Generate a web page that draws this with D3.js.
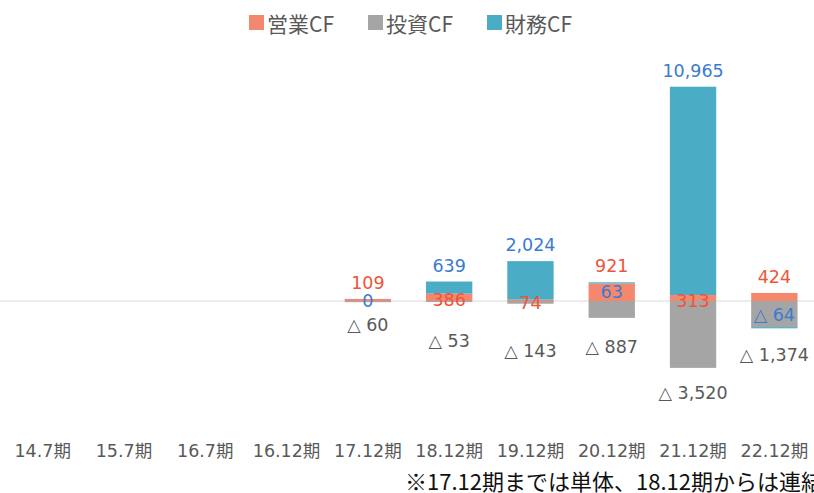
<!DOCTYPE html>
<html>
<head>
<meta charset="utf-8">
<script src="https://cdn.jsdelivr.net/npm/d3@7/dist/d3.min.js"></script>
<style>
  html, body { margin: 0; padding: 0; background: #fff; overflow: hidden; }
  svg { display: block; }
</style>
</head>
<body>
<svg id="chart" width="814" height="493"></svg>
<script>
// Cash-flow breakdown by fiscal period (百万円)
const categories = ["14.7期", "15.7期", "16.7期", "16.12期", "17.12期", "18.12期", "19.12期", "20.12期", "21.12期", "22.12期"];
const operating  = [null, null, null, null, 109, 386, 74, 921, 313, 424];
const investing  = [null, null, null, null, -60, -53, -143, -887, -3520, -1374];
const financing  = [null, null, null, null, 0, 639, 2024, 63, 10965, -64];
const seriesNames = ["営業CF", "投資CF", "財務CF"];
const footnote = "※17.12期までは単体、18.12期からは連結";

// extra drop below the stack for the investing labels, so neighbours don't collide
const investLabelGap = [0, 0, 0, 0, 23, 39, 47, 29, 25, 27];

const colors = { "営業CF": "#F4886F", "投資CF": "#A5A5A5", "財務CF": "#4BACC6" };
const labelColors = { "営業CF": "#EE5539", "投資CF": "#595959", "財務CF": "#3A7BD0" };

const W = 814, H = 493;
const svg = d3.select("#chart");
const numFont = "'DejaVu Sans', 'Noto Sans CJK JP', sans-serif";
const jpFont = "'Noto Sans CJK JP', sans-serif";

const x = d3.scaleBand().domain(categories).range([2, 815]).paddingInner(0.43).paddingOuter(0.215);
const y = d3.scaleLinear().domain([-6000, 14000]).range([415, 35]);

const rows = categories.map((c, i) => ({
  cat: c, i,
  "営業CF": operating[i] ?? 0,
  "投資CF": investing[i] ?? 0,
  "財務CF": financing[i] ?? 0
}));

const stack = d3.stack().keys(seriesNames).offset(d3.stackOffsetDiverging);
const layers = stack(rows);

// zero line
svg.append("line")
  .attr("x1", 0).attr("x2", W)
  .attr("y1", y(0)).attr("y2", y(0))
  .attr("stroke", "#D9D9D9").attr("stroke-width", 1.2);

// bars
svg.append("g").selectAll("g").data(layers).join("g")
  .attr("fill", d => colors[d.key])
  .selectAll("rect").data(d => d).join("rect")
  .attr("x", d => x(d.data.cat))
  .attr("width", x.bandwidth())
  .attr("y", d => y(Math.max(d[0], d[1])))
  .attr("height", d => Math.abs(y(d[0]) - y(d[1])));

// data labels
const fmt = d3.format(",");
const labels = svg.append("g").attr("font-family", numFont).attr("font-size", 17.5);
const aboveGap = 16;

rows.forEach((r, i) => {
  if (operating[i] == null) return;
  const cx = x(r.cat) + x.bandwidth() / 2;
  const posTop = seriesNames.reduce((a, k) => a + Math.max(0, r[k]), 0);
  const negBottom = seriesNames.reduce((a, k) => a + Math.min(0, r[k]), 0);
  const opSeg = layers[0][i];
  const fin = financing[i];

  // operating CF: inside its segment when financing sits on top, otherwise above the stack
  const opY = fin > 300 ? y((opSeg[0] + opSeg[1]) / 2) + 3 : y(posTop) - aboveGap;
  labels.append("text")
    .attr("x", cx).attr("y", opY)
    .attr("text-anchor", "middle").attr("dominant-baseline", "central")
    .attr("fill", labelColors["営業CF"])
    .text(fmt(operating[i]));

  // financing CF
  let finY;
  if (fin > 300) finY = y(posTop) - aboveGap;
  else if (fin > 0) finY = y(posTop / 2);
  else if (fin < 0) finY = y(negBottom / 2);
  else finY = y(0);
  labels.append("text")
    .attr("x", cx).attr("y", finY)
    .attr("text-anchor", "middle").attr("dominant-baseline", "central")
    .attr("fill", labelColors["財務CF"])
    .text(fin < 0 ? "△ " + fmt(-fin) : fmt(fin));

  // investing CF
  const inv = investing[i];
  labels.append("text")
    .attr("x", cx).attr("y", y(negBottom) + investLabelGap[i])
    .attr("text-anchor", "middle").attr("dominant-baseline", "central")
    .attr("fill", labelColors["投資CF"])
    .text(inv < 0 ? "△ " + fmt(-inv) : fmt(inv));
});

// category axis
const xAxis = svg.append("g")
  .attr("transform", `translate(0, ${451})`)
  .call(d3.axisBottom(x).tickSize(0).tickPadding(0));
xAxis.select(".domain").remove();
xAxis.selectAll("text")
  .attr("font-family", numFont).attr("font-size", 17.5)
  .attr("fill", "#595959").attr("dy", "0.35em").attr("y", 0);

// legend
const legend = svg.append("g").attr("font-family", jpFont).attr("font-size", 21).attr("fill", "#595959");
let lx = 249;
seriesNames.forEach(k => {
  legend.append("rect").attr("x", lx).attr("y", 15).attr("width", 15).attr("height", 15).attr("fill", colors[k]);
  legend.append("text").attr("x", lx + 18).attr("y", 22.5)
    .attr("dominant-baseline", "central").text(k);
  lx += 119;
});

// footnote
svg.append("text")
  .attr("x", 405).attr("y", 490)
  .attr("font-family", jpFont).attr("font-size", 22)
  .attr("fill", "#111")
  .text(footnote);
</script>
</body>
</html>
